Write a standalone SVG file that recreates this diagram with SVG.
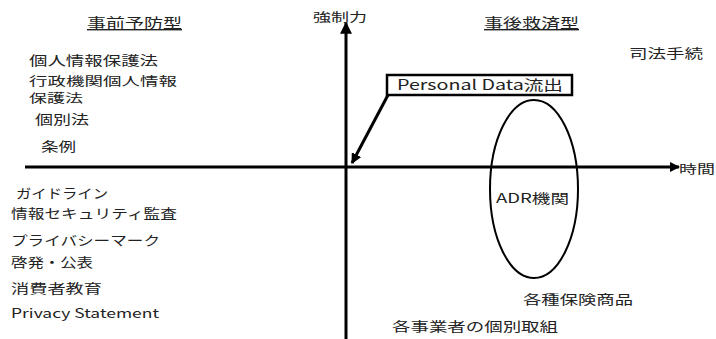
<svg xmlns="http://www.w3.org/2000/svg" width="716" height="339" viewBox="0 0 716 339">
<style>
.t{font-family:"Noto Sans CJK JP","Liberation Sans",sans-serif;font-size:13px;fill:#222}
.s{font-size:12px}
.h{font-size:14px;text-decoration:underline}
.ax{stroke:#000;stroke-width:3;fill:none}
</style>
<defs>
<marker id="ah" viewBox="0 0 10 10" refX="9" refY="5" markerWidth="4" markerHeight="4" orient="auto" markerUnits="strokeWidth">
<path d="M0,0 L10,5 L0,10 z" fill="#000"/>
</marker>
<marker id="ah2" viewBox="0 0 10 10" refX="9" refY="5" markerWidth="3.5" markerHeight="3.5" orient="auto" markerUnits="strokeWidth">
<path d="M0,0 L10,5 L0,10 z" fill="#000"/>
</marker>
</defs>
<rect width="716" height="339" fill="#fff"/>
<g id="connectors">
<line class="ax" x1="25" y1="167" x2="679" y2="167" marker-end="url(#ah2)"/>
<line class="ax" x1="346" y1="339" x2="346" y2="23" marker-end="url(#ah)"/>
<line x1="388" y1="95" x2="352" y2="163" stroke="#000" stroke-width="3" marker-end="url(#ah2)"/>
</g>
<g id="axis-labels">
<text class="t s" x="313" y="22" textLength="54" lengthAdjust="spacingAndGlyphs">強制力</text>
<text class="t s" x="679" y="174" textLength="36" lengthAdjust="spacingAndGlyphs">時間</text>
</g>
<g id="pre">
<text class="t h" x="87" y="28" textLength="95" lengthAdjust="spacingAndGlyphs">事前予防型</text>
<text class="t" x="29" y="65" textLength="129" lengthAdjust="spacingAndGlyphs">個人情報保護法</text>
<text class="t s" x="29" y="86" textLength="148" lengthAdjust="spacingAndGlyphs">行政機関個人情報</text>
<text class="t s" x="29" y="103" textLength="54" lengthAdjust="spacingAndGlyphs">保護法</text>
<text class="t" x="35" y="124" textLength="54" lengthAdjust="spacingAndGlyphs">個別法</text>
<text class="t" x="41" y="151" textLength="35" lengthAdjust="spacingAndGlyphs">条例</text>
</g>
<g id="soft">
<text class="t" x="16" y="198" textLength="92" lengthAdjust="spacingAndGlyphs">ガイドライン</text>
<text class="t" x="11" y="218" textLength="166" lengthAdjust="spacingAndGlyphs">情報セキュリティ監査</text>
<text class="t" x="11" y="245" textLength="149" lengthAdjust="spacingAndGlyphs">プライバシーマーク</text>
<text class="t" x="11" y="267" textLength="82" lengthAdjust="spacingAndGlyphs">啓発・公表</text>
<text class="t" x="11" y="293" textLength="91" lengthAdjust="spacingAndGlyphs">消費者教育</text>
<text class="t" x="11" y="318" textLength="148" lengthAdjust="spacingAndGlyphs">Privacy Statement</text>
</g>
<g id="post">
<text class="t h" x="484" y="28" textLength="95" lengthAdjust="spacingAndGlyphs">事後救済型</text>
<text class="t" x="629" y="58" textLength="74" lengthAdjust="spacingAndGlyphs">司法手続</text>
</g>
<g id="leak">
<rect x="387" y="75" width="185" height="20" fill="#fff" stroke="#000" stroke-width="2.5"/>
<text class="t" x="397" y="90" style="font-size:14px" textLength="166" lengthAdjust="spacingAndGlyphs">Personal Data流出</text>
</g>
<g id="adr">
<ellipse cx="534" cy="189" rx="44" ry="89" fill="none" stroke="#000" stroke-width="2"/>
<text class="t" x="496" y="203" textLength="73" lengthAdjust="spacingAndGlyphs">ADR機関</text>
</g>
<g id="insurance">
<text class="t" x="523" y="304" textLength="110" lengthAdjust="spacingAndGlyphs">各種保険商品</text>
</g>
<g id="business">
<text class="t" x="392" y="331" textLength="166" lengthAdjust="spacingAndGlyphs">各事業者の個別取組</text>
</g>
</svg>
